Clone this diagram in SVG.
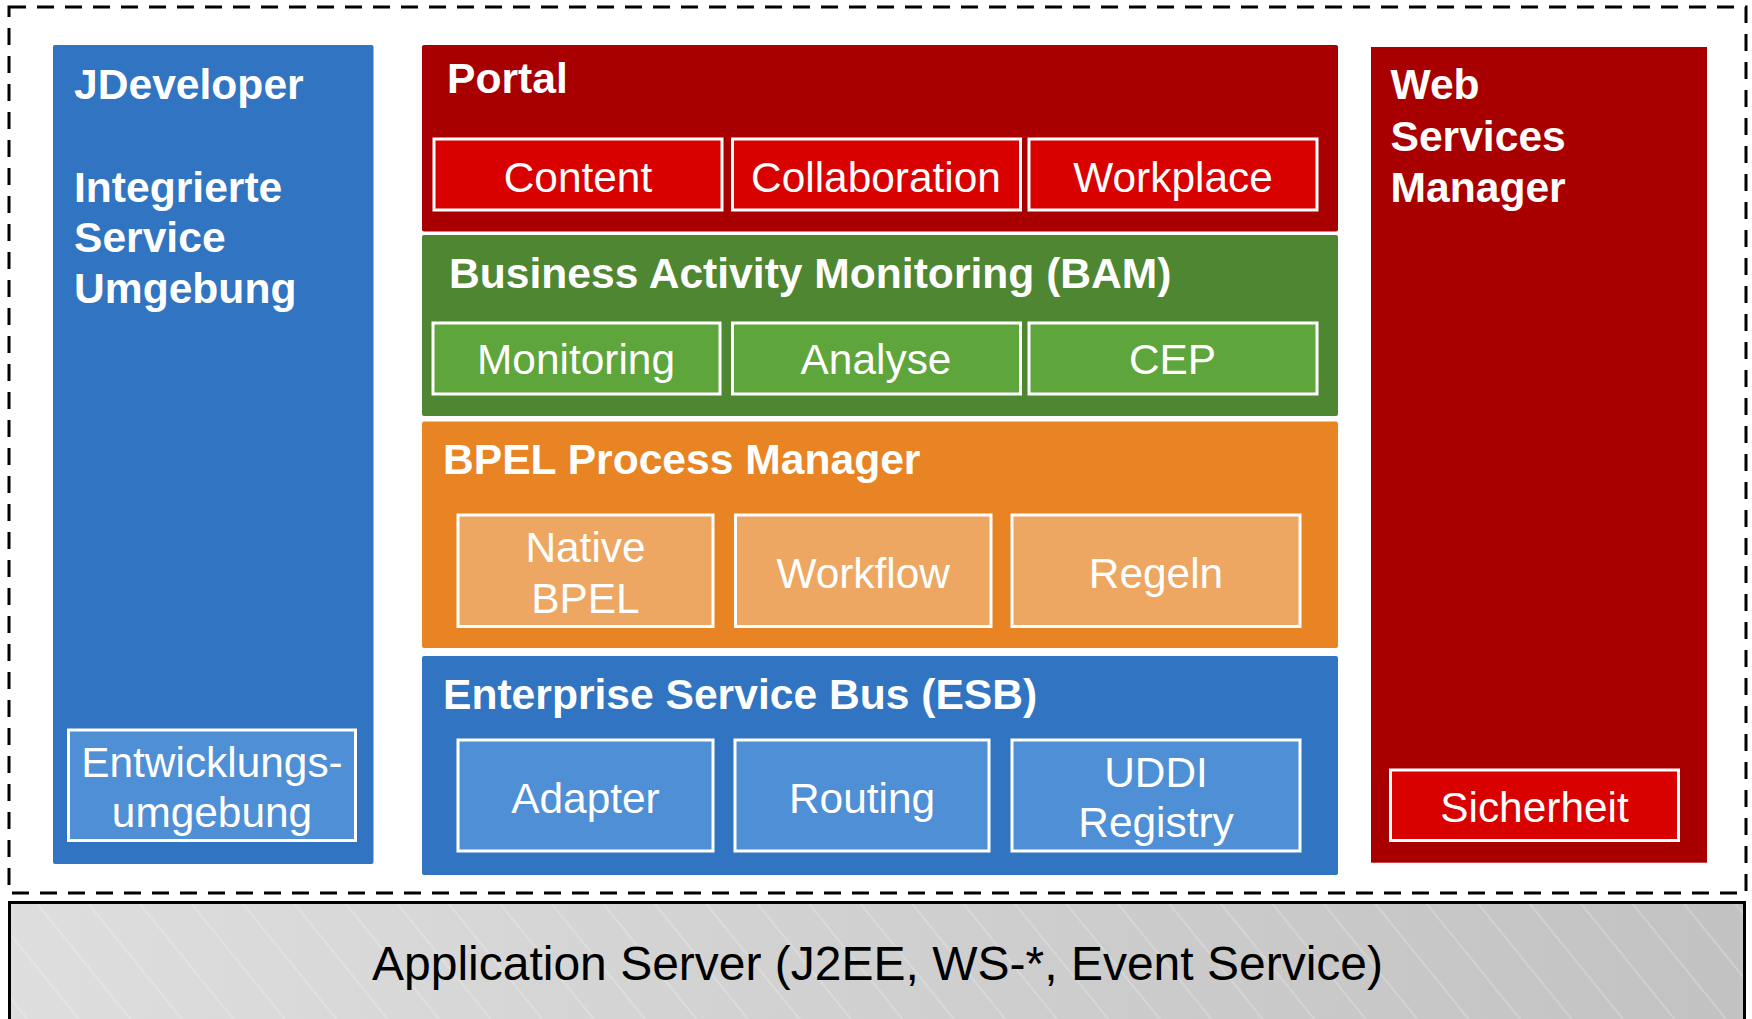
<svg xmlns="http://www.w3.org/2000/svg" width="1752" height="1019" viewBox="0 0 1752 1019">
<defs>
<linearGradient id="gray" x1="0" y1="0" x2="1" y2="0">
<stop offset="0" stop-color="#dedede"/>
<stop offset="1" stop-color="#c2c2c2"/>
</linearGradient>
<pattern id="hatch" width="40" height="40" patternUnits="userSpaceOnUse" patternTransform="rotate(-39)">
<line x1="20" y1="0" x2="20" y2="40" stroke="#ffffff" stroke-opacity="0.4" stroke-width="1"/>
</pattern>
<style>
.t{font-family:"Liberation Sans",Arial,sans-serif;fill:#ffffff}
.b{font-weight:bold;font-size:42.6px}
.r{font-size:42.4px;text-anchor:middle}
.sub{stroke:#ffffff;stroke-width:3}
.dred{fill:#a80000}
.bred{fill:#d90000}
.dgreen{fill:#4e8632}
.lgreen{fill:#5ea53c}
.dor{fill:#e88423}
.lor{fill:#eda763}
.dblue{fill:#3174c1}
.lblue{fill:#4f8fd6}
</style>
</defs>
<rect width="1752" height="1019" fill="#ffffff"/>

<g id="app-server">
<rect x="9.5" y="902.5" width="1735" height="200" fill="url(#gray)"/>
<rect x="9.5" y="902.5" width="1735" height="200" fill="url(#hatch)"/>
<rect x="9.5" y="902.5" width="1735" height="200" fill="none" stroke="#000000" stroke-width="3"/>
<text x="877.5" y="980" font-family="'Liberation Sans',Arial,sans-serif" font-size="48" text-anchor="middle" fill="#000000">Application Server (J2EE, WS-*, Event Service)</text>
</g>

<g id="frame">
<rect x="9" y="7" width="1737" height="886" fill="none" stroke="#000000" stroke-width="3" stroke-dasharray="17 11"/>
</g>

<g id="jdeveloper">
<rect class="dblue" x="53" y="45" width="320.5" height="819" rx="2"/>
<text class="t b" x="74" y="99">JDeveloper</text>
<text class="t b" x="74" y="201.5">Integrierte</text>
<text class="t b" x="74" y="252">Service</text>
<text class="t b" x="74" y="303">Umgebung</text>
</g>
<g id="entwicklungsumgebung">
<rect class="lblue sub" x="68.5" y="730" width="287" height="110.5"/>
<text class="t r" x="212" y="777">Entwicklungs-</text>
<text class="t r" x="212" y="826.5">umgebung</text>
</g>

<g id="portal">
<rect class="dred" x="422" y="45" width="916" height="186.5" rx="2"/>
<text class="t b" x="447" y="93.3">Portal</text>
</g>
<g id="content">
<rect class="bred sub" x="434" y="139" width="288" height="71"/>
<text class="t r" x="578" y="191.5">Content</text>
</g>
<g id="collaboration">
<rect class="bred sub" x="732.5" y="139" width="288" height="71"/>
<text class="t r" x="876" y="191.5">Collaboration</text>
</g>
<g id="workplace">
<rect class="bred sub" x="1029" y="139" width="288" height="71"/>
<text class="t r" x="1173" y="191.5">Workplace</text>
</g>

<g id="bam">
<rect class="dgreen" x="422" y="235" width="916" height="181" rx="2"/>
<text class="t b" x="449" y="288.3">Business Activity Monitoring (BAM)</text>
</g>
<g id="monitoring">
<rect class="lgreen sub" x="433" y="323" width="287" height="71"/>
<text class="t r" x="576" y="374">Monitoring</text>
</g>
<g id="analyse">
<rect class="lgreen sub" x="732.5" y="323" width="288" height="71"/>
<text class="t r" x="876" y="374">Analyse</text>
</g>
<g id="cep">
<rect class="lgreen sub" x="1029" y="323" width="288" height="71"/>
<text class="t r" x="1172.5" y="374">CEP</text>
</g>

<g id="bpel">
<rect class="dor" x="422" y="421.5" width="916" height="226.5" rx="2"/>
<text class="t b" x="443" y="474">BPEL Process Manager</text>
</g>
<g id="native-bpel">
<rect class="lor sub" x="458" y="515" width="255" height="111.5"/>
<text class="t r" x="585.5" y="562">Native</text>
<text class="t r" x="585.5" y="613">BPEL</text>
</g>
<g id="workflow">
<rect class="lor sub" x="735.5" y="515" width="255.5" height="111.5"/>
<text class="t r" x="863.2" y="587.5">Workflow</text>
</g>
<g id="regeln">
<rect class="lor sub" x="1012" y="515" width="288" height="111.5"/>
<text class="t r" x="1156" y="587.5">Regeln</text>
</g>

<g id="esb">
<rect class="dblue" x="422" y="656" width="916" height="219" rx="2"/>
<text class="t b" x="443" y="709">Enterprise Service Bus (ESB)</text>
</g>
<g id="adapter">
<rect class="lblue sub" x="458" y="740" width="255" height="111"/>
<text class="t r" x="585.5" y="812.7">Adapter</text>
</g>
<g id="routing">
<rect class="lblue sub" x="735" y="740" width="254" height="111"/>
<text class="t r" x="862" y="812.7">Routing</text>
</g>
<g id="uddi">
<rect class="lblue sub" x="1012" y="740" width="288" height="111"/>
<text class="t r" x="1156" y="786.7">UDDI</text>
<text class="t r" x="1156" y="836.7">Registry</text>
</g>

<g id="web-services-manager">
<rect class="dred" x="1371" y="47" width="336" height="815.7"/>
<text class="t b" x="1390.5" y="99">Web</text>
<text class="t b" x="1390.5" y="150.7">Services</text>
<text class="t b" x="1390.5" y="201.7">Manager</text>
</g>
<g id="sicherheit">
<rect class="bred sub" x="1390.5" y="770" width="288" height="70.5"/>
<text class="t r" x="1534.5" y="821.7">Sicherheit</text>
</g>

<g id="connectors"/>
</svg>
